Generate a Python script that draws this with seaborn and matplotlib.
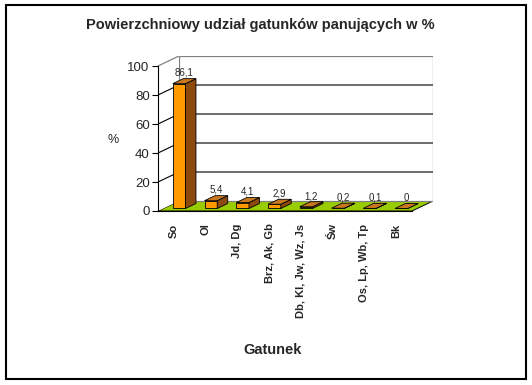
import numpy as np
import matplotlib
matplotlib.use("Agg")
import matplotlib.pyplot as plt
import matplotlib.transforms as mtrans
from matplotlib.patches import Polygon, Rectangle
import seaborn as sns
import pandas as pd

# Data
categories = ["So", "Ol", "Jd, Dg", "Brz, Ak, Gb", "Db, Kl, Jw, Wz, Js",
              "Św", "Os, Lp, Wb, Tp", "Bk"]
values = [86.1, 5.4, 4.1, 2.9, 1.2, 0.2, 0.1, 0]
value_labels = ["86,1", "5,4", "4,1", "2,9", "1,2", "0,2", "0,1", "0"]
yticks = [0, 20, 40, 60, 80, 100]

sns.set_style("white")
plt.rcParams['font.family'] = ['Liberation Sans', 'DejaVu Sans']

fig = plt.figure(figsize=(5.32, 3.85), dpi=100)
ax = fig.add_axes([158 / 532, 1 - 211 / 385, 275 / 532, 155 / 385])

n = len(categories)
dxw, dyw = 0.661, 6.9          # wall depth in data units
fx, fy = 0.25 * dxw, 0.25 * dyw  # bar front depth
bx, by = 0.75 * dxw, 0.75 * dyw  # bar back depth

# floor, side wall, back wall
ax.add_patch(Polygon([(-0.5, 0), (n - 0.5, 0), (n - 0.5 + dxw, dyw), (-0.5 + dxw, dyw)],
                     facecolor="#99cc00", edgecolor="black", lw=0.7, zorder=0))
ax.add_patch(Rectangle((-0.5 + dxw, dyw), n, 100, facecolor="white",
                       edgecolor="#808080", lw=0.9, zorder=0))
ax.add_patch(Polygon([(-0.5, 0), (-0.5 + dxw, dyw), (-0.5 + dxw, 100 + dyw), (-0.5, 100)],
                     facecolor="white", edgecolor="none", zorder=0))
ax.plot([-0.5, -0.5 + dxw], [100, 100 + dyw], color="#808080", lw=0.9, zorder=0.5)
for v in yticks[1:-1]:
    ax.plot([-0.5, -0.5 + dxw, n - 0.5 + dxw], [v, v + dyw, v + dyw],
            color="black", lw=0.8, zorder=0.5)

df = pd.DataFrame({"Gatunek": categories, "udzial": values})
sns.barplot(data=df, x="Gatunek", y="udzial", order=categories, width=0.4,
            color="#ff9900", saturation=1, edgecolor="black", linewidth=0.6,
            ax=ax, zorder=3)

shift = mtrans.Affine2D().translate(fx, fy) + ax.transData
for p, lab in zip(ax.patches[3:], value_labels):
    p.set_transform(shift)
    x0, w, h = p.get_x(), p.get_width(), p.get_height()
    top = [(x0 + fx, h + fy), (x0 + w + fx, h + fy), (x0 + w + bx, h + by), (x0 + bx, h + by)]
    side = [(x0 + w + fx, fy), (x0 + w + bx, by), (x0 + w + bx, h + by), (x0 + w + fx, h + fy)]
    ax.add_patch(Polygon(side, facecolor="#8c4a0c", edgecolor="black", lw=0.6, zorder=3))
    ax.add_patch(Polygon(top, facecolor="#c8781e", edgecolor="black", lw=0.6, zorder=3))
    ax.text(x0 + w / 2 + (fx + bx) / 2, h + by + 0.5, lab, ha="center", va="bottom",
            fontsize=7, zorder=4)

ax.set_xlim(-0.5, n - 0.5 + dxw)
ax.set_ylim(0, 100 + dyw)
ax.set_yticks(yticks)
ax.set_yticklabels([str(v) for v in yticks], fontsize=9.5)
ax.set_xticks(range(n))
ax.set_xticklabels(categories, rotation=90, fontsize=8, fontweight="bold")
ax.set_xticks(np.arange(-0.5, n, 1), minor=True)
ax.tick_params(axis="x", which="major", length=0, pad=9)
ax.tick_params(axis="x", which="minor", length=4, width=0.8, direction="out", color="black")
ax.tick_params(axis="y", length=4, width=0.8, direction="out", color="black", pad=2, left=True)
for s in ["top", "right"]:
    ax.spines[s].set_visible(False)
ax.spines["left"].set_bounds(0, 100)
ax.spines["bottom"].set_bounds(-0.5, n - 0.5)
for s in ["left", "bottom"]:
    ax.spines[s].set_color("black")
    ax.spines[s].set_linewidth(0.8)
ax.patch.set_visible(False)
ax.set_xlabel("")
ax.set_ylabel("")

fig.text(113 / 532, 1 - 140 / 385, "%", fontsize=9, ha="center", va="center")
fig.text(273 / 532, 1 - 350 / 385, "Gatunek", fontsize=10.5, fontweight="bold",
         ha="center", va="center")
fig.text(260 / 532, 1 - 25 / 385, "Powierzchniowy udział gatunków panujących w %",
         fontsize=10.5, fontweight="bold", ha="center", va="center")

fig.add_artist(Rectangle((6 / 532, 1 - 379 / 385), 520 / 532, 374 / 385,
                         transform=fig.transFigure, fill=False, edgecolor="black", lw=1.5))

fig.savefig("out.png", dpi=100)
